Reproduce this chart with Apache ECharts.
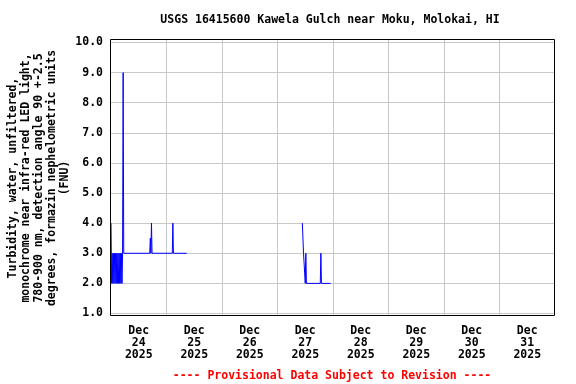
<!DOCTYPE html>
<html>
<head>
<meta charset="utf-8">
<script src="https://cdn.jsdelivr.net/npm/echarts@6/dist/echarts.min.js"></script>
<style>
html,body{margin:0;padding:0;background:#fff;}
#chart{width:576px;height:384px;}
</style>
</head>
<body>
<div id="chart"></div>
<script>
// Observation times (local, Dec 2025) and turbidity values (FNU); null = gap
var obsTimes = [
  '12-24 00:00','12-24 00:15','12-24 00:30','12-24 00:45','12-24 01:00','12-24 01:15',
  '12-24 01:30','12-24 01:45','12-24 02:00','12-24 02:15','12-24 02:30','12-24 02:45',
  '12-24 03:00','12-24 03:15','12-24 03:30','12-24 03:45','12-24 04:00','12-24 04:15',
  '12-24 04:30','12-24 04:45','12-24 05:00','12-24 05:15','12-24 05:30',
  '12-24 16:45','12-24 17:00','12-24 17:15','12-24 17:30','12-24 17:45',
  '12-25 02:30','12-25 02:45','12-25 03:00','12-25 08:45','12-25 09:00',
  '12-27 10:45','12-27 11:00','12-27 11:15','12-27 11:30','12-27 11:45','12-27 12:00',
  '12-27 12:15','12-27 12:30','12-27 18:30','12-27 18:45','12-27 19:00','12-27 23:00'
];
var turbidity = [
  4.0, 2.0, 3.0, 2.0, 3.0, 2.0,
  3.0, 2.0, 3.0, 2.0, 3.0, 2.0,
  3.0, 2.0, 3.0, 2.0, 3.0, 2.0,
  3.0, 2.0, 3.0, 9.0, 3.0,
  3.0, 3.5, 3.0, 4.0, 3.0,
  3.0, 4.0, 3.0, 3.0, null,
  4.0, 4.0, 3.0, 3.0, 3.0, 2.0,
  3.0, 2.0, 2.0, 3.0, 2.0, 2.0
];
var dayTickLabels = ['Dec\n24\n2025','Dec\n25\n2025','Dec\n26\n2025','Dec\n27\n2025',
                     'Dec\n28\n2025','Dec\n29\n2025','Dec\n30\n2025','Dec\n31\n2025'];
var yTickValues = [1,2,3,4,5,6,7,8,9,10];

function toHours(s) {
  var p = s.split(' ');
  var d = parseInt(p[0].split('-')[1], 10);
  var hm = p[1].split(':');
  return (d - 24) * 24 + parseInt(hm[0], 10) + parseInt(hm[1], 10) / 60;
}
var seriesData = obsTimes.map(function (t, i) { return [toHours(t), turbidity[i]]; });

var FONT = 'DejaVu Sans Mono';
var chart = echarts.init(document.getElementById('chart'), null, {renderer: 'canvas'});
chart.setOption({
  animation: false,
  backgroundColor: '#fff',
  title: [
    {text: 'USGS 16415600 Kawela Gulch near Moku, Molokai, HI', left: 330, top: 14, textAlign: 'center',
     padding: 0, textStyle: {fontFamily: FONT, fontWeight: 'bold', fontSize: 11.5, color: '#000'}},
    {text: '---- Provisional Data Subject to Revision ----', left: 332, top: 370, textAlign: 'center',
     padding: 0, textStyle: {fontFamily: FONT, fontWeight: 'bold', fontSize: 11.5, color: '#ff0000'}}
  ],
  grid: [
    {left: 111, right: 21, top: 40, bottom: 69, show: false, outerBoundsMode: 'none', containLabel: false},
    {left: 111, right: 21, top: 42.5, bottom: 70.5, show: false, outerBoundsMode: 'none', containLabel: false}
  ],
  xAxis: [
    {gridIndex: 0, type: 'value', min: 0, max: 192, interval: 24, position: 'bottom',
     axisLine: {show: false}, axisTick: {show: false}, axisLabel: {show: false},
     splitLine: {show: true, showMinLine: false, showMaxLine: false, lineStyle: {color: '#c8c8c8', width: 1}}},
    {gridIndex: 0, type: 'value', min: 0, max: 192, interval: 12, position: 'bottom',
     axisLine: {show: false}, axisTick: {show: false}, splitLine: {show: false},
     axisLabel: {show: true, margin: 10, fontFamily: FONT, fontWeight: 'bold', fontSize: 11.5,
       lineHeight: 12, color: '#000', align: 'center',
       formatter: function (v) {
         if (v % 24 === 12) { return dayTickLabels[Math.floor(v / 24)]; }
         return '';
       }}},
    {gridIndex: 1, type: 'value', min: 0, max: 192, show: false}
  ],
  yAxis: [
    {gridIndex: 0, type: 'value', min: 0, max: 1, show: false},
    {gridIndex: 1, type: 'value', min: 1, max: 10, interval: 1,
     axisLine: {show: false}, axisTick: {show: false},
     splitLine: {show: true, lineStyle: {color: '#c8c8c8', width: 1}},
     axisLabel: {margin: 8, fontFamily: FONT, fontWeight: 'bold', fontSize: 11.5, color: '#000',
       formatter: function (v) { return yTickValues.indexOf(v) >= 0 ? v.toFixed(1) : ''; }},
     name: 'Turbidity, water, unfiltered,\nmonochrome near infra-red LED light,\n780-900 nm, detection angle 90 +-2.5\ndegrees, formazin nephelometric units\n(FNU)',
     nameLocation: 'middle', nameRotate: 90, nameGap: 39, nameMoveOverlap: false,
     nameTextStyle: {fontFamily: FONT, fontWeight: 'bold', fontSize: 11.5, color: '#000', lineHeight: 13, align: 'center'}}
  ],
  graphic: [
    {type: 'rect', z: 100, silent: true,
     shape: {x: 110.5, y: 39.5, width: 444, height: 276},
     style: {fill: 'none', stroke: '#000', lineWidth: 1}}
  ],
  series: [
    {type: 'line', xAxisIndex: 2, yAxisIndex: 1, data: seriesData, showSymbol: false,
     connectNulls: false, lineStyle: {color: '#0000ff', width: 1}, itemStyle: {color: '#0000ff'}, z: 5}
  ]
});
</script>
</body>
</html>
